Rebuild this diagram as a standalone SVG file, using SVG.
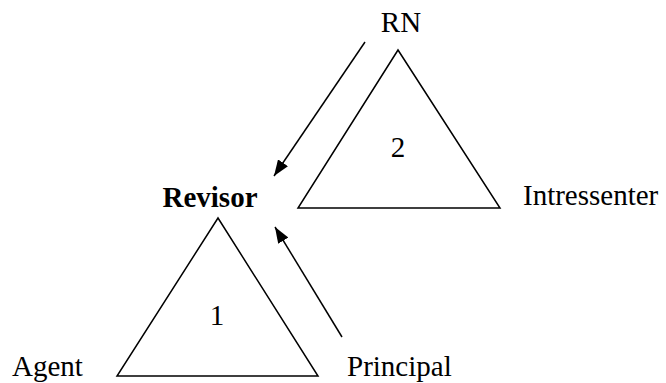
<svg xmlns="http://www.w3.org/2000/svg" width="666" height="383" viewBox="0 0 666 383">
<defs>
<style>
text{font-family:"Liberation Serif","Times New Roman",serif;font-size:29px;fill:#000}
.b{font-weight:bold}
.tri{fill:none;stroke:#000;stroke-width:1.5}
.arr{fill:none;stroke:#000;stroke-width:1.5}
</style>
<marker id="ah" viewBox="0 0 16 12" refX="16" refY="6" markerWidth="16" markerHeight="12" markerUnits="userSpaceOnUse" orient="auto">
<path d="M0,0 L16,6 L0,12 Z" fill="#000"/>
</marker>
</defs>
<rect width="666" height="383" fill="#fff"/>
<g id="tri2">
<polygon class="tri" points="398,50 298,208 500,208"/>
<text x="398" y="157" text-anchor="middle">2</text>
</g>
<g id="tri1">
<polygon class="tri" points="218,218 117,376 318,376"/>
<text x="217" y="325" text-anchor="middle">1</text>
</g>
<g id="rn"><text x="401" y="32" text-anchor="middle">RN</text></g>
<g id="revisor"><text class="b" x="210" y="207" text-anchor="middle">Revisor</text></g>
<g id="intressenter"><text x="523" y="205">Intressenter</text></g>
<g id="agent"><text x="12" y="376">Agent</text></g>
<g id="principal"><text x="347" y="376">Principal</text></g>
<g id="connectors">
<line class="arr" x1="365" y1="42" x2="274" y2="176" marker-end="url(#ah)"/>
<line class="arr" x1="342" y1="337" x2="275" y2="227" marker-end="url(#ah)"/>
</g>
</svg>
